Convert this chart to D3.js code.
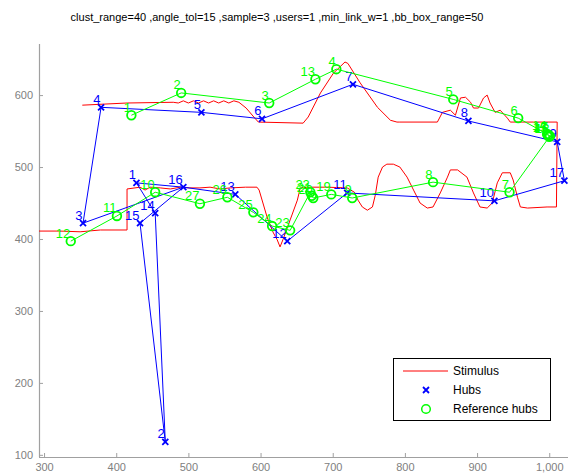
<!DOCTYPE html>
<html>
<head>
<meta charset="utf-8">
<script src="https://cdn.jsdelivr.net/npm/d3@7"></script>
<style>
  html, body { margin: 0; padding: 0; background: #fff; }
  svg { display: block; font-family: "Liberation Sans", Arial, sans-serif; }
</style>
</head>
<body>
<svg id="chart" width="573" height="475"></svg>
<script>
// Title parameters
const titleText = "clust_range=40 ,angle_tol=15 ,sample=3 ,users=1 ,min_link_w=1 ,bb_box_range=50";

// Stimulus outline (red)
const stimX = [293, 322, 350, 378, 415, 415, 426, 433, 440, 447, 461, 475, 489, 502, 516, 530, 544, 558, 579, 595,
  598, 609, 617, 623, 627, 631, 641, 651, 655, 669, 692, 720, 730, 735, 741, 748, 755, 759, 763, 769,
  775, 784, 793, 803, 812, 821, 831, 839, 849, 859, 863, 873, 886, 895, 904, 914, 921, 928, 935, 946,
  950, 956, 960, 970, 997, 1010, 1011, 978, 946, 942, 932, 925, 918, 914, 909, 902, 895, 891, 884, 877,
  870, 863, 852, 845, 793, 789, 780, 762, 738, 721, 717, 701, 683, 666, 659, 597, 592, 580, 570, 563,
  556, 549, 542, 535, 528, 521, 514, 507, 500, 493, 486, 479, 415, 353];
const stimY = [411, 411, 410, 412.5, 412.5, 469.5, 471, 472, 468, 472, 471, 469.5, 472, 471, 471, 472, 469.5, 471, 472, 472,
  468, 430.5, 410, 399, 389, 399, 426.5, 454, 471, 472, 472, 471, 465, 454, 444.5, 440, 444.5, 461, 486, 500,
  504, 504, 500, 486, 468, 450, 443, 444.5, 464, 486, 496, 496, 486, 464, 444.5, 443, 450, 478, 492, 492,
  482, 458, 444.5, 443, 444.5, 444.5, 562.5, 562.5, 562.5, 568, 579, 576, 589, 600, 596, 582, 582, 590, 597, 596,
  572, 579, 576, 562.5, 562.5, 562.5, 565, 583, 617, 644, 646, 630.5, 603, 569.5, 561, 562.5, 568, 582, 590, 592,
  589, 592, 589, 592, 589, 592, 589, 592, 589, 592, 589, 590, 589, 586];

// Detected hubs (blue), numbered 1..17
const hubId = [1, 2, 3, 4, 5, 6, 7, 8, 9, 10, 11, 12, 13, 14, 15, 16, 17];
const hubX = [428, 468, 354, 379, 518, 602, 728, 888, 1011, 924, 720, 637, 565, 454, 433, 493, 1021];
const hubY = [478, 118, 422, 583, 576, 567, 615, 564, 535, 453, 464, 397, 462, 436, 422, 472, 481];
const hubLinks = [[3, 4], [4, 5], [5, 6], [6, 7], [7, 8], [8, 9], [9, 17], [17, 10], [10, 11], [11, 12],
  [12, 13], [13, 16], [16, 1], [1, 14], [14, 2], [2, 15], [15, 16], [16, 3]];

// Reference hubs (green), numbered 1..27
const refId = [1, 2, 3, 4, 5, 6, 7, 8, 9, 10, 11, 12, 13, 14, 15, 16, 17, 18, 19, 20, 21, 22, 23, 24, 25, 26, 27];
const refX = [421, 490, 612, 705, 867, 957, 945, 839, 727, 454, 401, 337, 676, 997, 998, 1000, 999, 1001, 698, 673, 671, 669, 641, 616, 590, 554, 516];
const refY = [572, 603, 589, 636, 594, 568, 465, 479, 457, 465, 432, 397, 622, 546, 544, 542, 545, 543, 462, 457, 460, 465, 412, 418, 437, 458, 449];
const refPath = [1, 2, 3, 13, 4, 5, 6, 14, 15, 16, 17, 18, 7, 8, 9, 19, 20, 21, 22, 23, 24, 25, 26, 27, 10, 11, 12];

// Axis settings
const xDomain = [293, 1026];
const yDomain = [97, 671];
const xTicks = [300, 400, 500, 600, 700, 800, 900, 1000];
const yTicks = [100, 200, 300, 400, 500, 600];
const legendLabels = ["Stimulus", "Hubs", "Reference hubs"];

const RED = "#ff0000", BLUE = "#0000ff", GREEN = "#00ff00";
const AXIS_GRAY = "#a0a0a0", TEXT_GRAY = "#808080";

const svg = d3.select("#chart");
const plot = { left: 39, right: 568, top: 44, bottom: 457 };

const x = d3.scaleLinear().domain(xDomain).range([plot.left, plot.right]);
const y = d3.scaleLinear().domain(yDomain).range([plot.bottom, plot.top]);

// Title
svg.append("text")
  .attr("x", 277).attr("y", 21)
  .attr("text-anchor", "middle")
  .attr("font-size", 11)
  .attr("fill", "#000")
  .text(titleText);

// Axes: left and bottom only, ticks pointing inward
const xAxis = d3.axisBottom(x).tickValues(xTicks).tickSizeInner(-4).tickSizeOuter(0).tickPadding(6);
const yAxis = d3.axisLeft(y).tickValues(yTicks).tickSizeInner(-4).tickSizeOuter(0).tickPadding(6);

const gx = svg.append("g").attr("transform", `translate(0,${plot.bottom})`).call(xAxis);
const gy = svg.append("g").attr("transform", `translate(${plot.left},0)`).call(yAxis);
[gx, gy].forEach(g => {
  g.select(".domain").attr("stroke", AXIS_GRAY).attr("stroke-width", 1.2);
  g.selectAll(".tick line").attr("stroke", AXIS_GRAY);
  g.selectAll(".tick text").attr("fill", TEXT_GRAY).attr("font-size", 11)
    .attr("font-family", "'Liberation Sans', Arial, sans-serif");
});
// Extend the x axis line to the y axis
gx.select(".domain").attr("d", `M${plot.left},0.5H${plot.right}`);
gy.select(".domain").attr("d", `M0.5,${plot.top}V${plot.bottom}`);

const line = d3.line().x(d => x(d[0])).y(d => y(d[1]));

// Stimulus
const stim = stimX.map((v, i) => [v, stimY[i]]);
svg.append("path").datum(stim)
  .attr("d", line).attr("fill", "none").attr("stroke", RED).attr("stroke-width", 1);

// Hubs: links, markers, labels
const hubPos = id => { const i = hubId.indexOf(id); return [hubX[i], hubY[i]]; };
svg.append("g").selectAll("path").data(hubLinks).join("path")
  .attr("d", l => line([hubPos(l[0]), hubPos(l[1])]))
  .attr("fill", "none").attr("stroke", BLUE).attr("stroke-width", 1);

const xMark = (g, cx, cy, s) => g.append("path")
  .attr("d", `M${cx - s},${cy - s}L${cx + s},${cy + s}M${cx - s},${cy + s}L${cx + s},${cy - s}`)
  .attr("stroke", BLUE).attr("stroke-width", 1.8).attr("fill", "none");

const hubG = svg.append("g");
hubId.forEach((id, i) => {
  xMark(hubG, x(hubX[i]), y(hubY[i]), 3);
});
const hubLabelG = svg.append("g");
hubId.forEach((id, i) => {
  hubLabelG.append("text")
    .attr("x", x(hubX[i]) - 0.5).attr("y", y(hubY[i]) - 3.5)
    .attr("text-anchor", "end").attr("font-size", 13).attr("fill", BLUE)
    .text(id);
});

// Reference hubs: path, markers, labels
const refPos = id => { const i = refId.indexOf(id); return [refX[i], refY[i]]; };
svg.append("path").datum(refPath.map(refPos))
  .attr("d", line).attr("fill", "none").attr("stroke", GREEN).attr("stroke-width", 1);
const refG = svg.append("g");
refId.forEach((id, i) => {
  refG.append("circle")
    .attr("cx", x(refX[i])).attr("cy", y(refY[i])).attr("r", 4.3)
    .attr("fill", "none").attr("stroke", GREEN).attr("stroke-width", 1.8);
});
refId.forEach((id, i) => {
  refG.append("text")
    .attr("x", x(refX[i]) - 0.5).attr("y", y(refY[i]) - 3.5)
    .attr("text-anchor", "end").attr("font-size", 13).attr("fill", GREEN)
    .text(id);
});

// Legend
const lg = svg.append("g").attr("transform", "translate(393,358)");
lg.append("rect").attr("x", 0.5).attr("y", 0.5).attr("width", 157).attr("height", 62)
  .attr("fill", "#fff").attr("stroke", "#000").attr("stroke-width", 1);
const rowY = [13, 32, 51];
lg.append("line").attr("x1", 10).attr("x2", 55).attr("y1", rowY[0]).attr("y2", rowY[0])
  .attr("stroke", RED).attr("stroke-width", 1);
xMark(lg, 33, rowY[1], 3);
lg.append("circle").attr("cx", 33).attr("cy", rowY[2]).attr("r", 4.3)
  .attr("fill", "none").attr("stroke", GREEN).attr("stroke-width", 1.5);
legendLabels.forEach((t, i) => {
  lg.append("text").attr("x", 60).attr("y", rowY[i]).attr("dy", "0.35em")
    .attr("font-size", 12).attr("fill", "#000").text(t);
});
</script>
</body>
</html>
